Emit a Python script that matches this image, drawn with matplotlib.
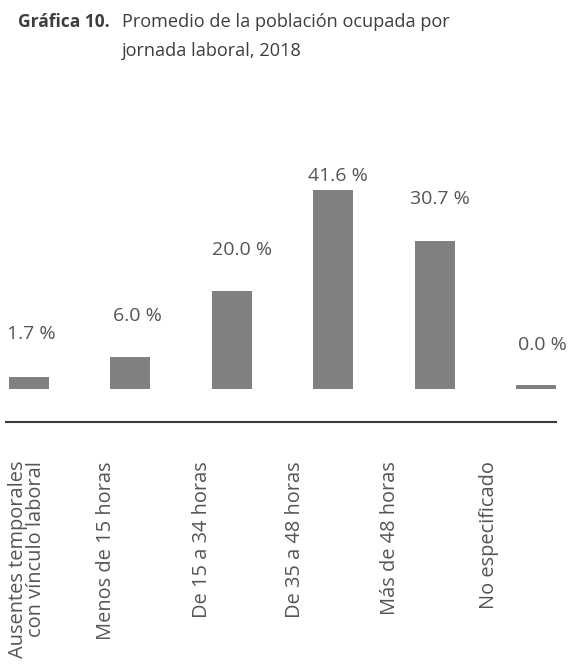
"""Gráfica 10: promedio de la población ocupada por jornada laboral, 2018."""

import matplotlib

matplotlib.use("Agg")
import matplotlib.pyplot as plt
import numpy as np

plt.rcParams["font.family"] = ["Open Sans", "DejaVu Sans"]

CATEGORIAS = [
    "Ausentes temporales\ncon vínculo laboral",
    "Menos de 15 horas",
    "De 15 a 34 horas",
    "De 35 a 48 horas",
    "Más de 48 horas",
    "No especificado",
]
VALORES = [1.7, 6.0, 20.0, 41.6, 30.7, 0.0]

C_BAR = "#808080"
C_TXT = "#555555"
C_LINE = "#3a3a3a"

W_PX, H_PX = 572, 666
X0_PX, DX_PX = 29, 101.4          # centro de la 1.ª barra y separación (px)
Y0_PX, SY_PX = 385, 4.69          # línea del valor 0 y px por punto porcentual
STUB = 4 / SY_PX                  # las barras bajan 4 px por debajo del cero
LIFT_PX = [43, 41, 41, 14, 42, 40]       # altura de la etiqueta sobre la barra
LAB_DX_PX = [2.5, 7, 10.5, 4.5, 5, 6]    # corrimiento horizontal de la etiqueta
CAT_X_PX = [27, 106, 202, 295, 390, 489]  # centros de los rótulos rotados


def px_x(p):
    return (p - X0_PX) / DX_PX


def px_y(p):
    return (Y0_PX - p) / SY_PX


fig = plt.figure(figsize=(W_PX / 100, H_PX / 100), dpi=100)
ax = fig.add_axes([0, 0, 1, 1])
ax.set_xlim(px_x(0), px_x(W_PX))
ax.set_ylim(px_y(H_PX), px_y(0))
ax.axis("off")

x = np.arange(len(VALORES))
v = np.array(VALORES)
ax.bar(x, v + STUB, bottom=-STUB, width=40 / DX_PX, color=C_BAR)

for xi, vi, lift, dx in zip(x, v, LIFT_PX, LAB_DX_PX):
    ax.text(xi + dx / DX_PX, vi + lift / SY_PX, f"{vi:.1f} %", ha="center", va="center",
            fontsize=14, color=C_TXT)

# línea base
ax.plot([px_x(5), px_x(557)], [px_y(422), px_y(422)], color=C_LINE, lw=1.5,
        solid_capstyle="butt")

for lab, cx in zip(CATEGORIAS, CAT_X_PX):
    ax.text(px_x(cx), px_y(461), lab, rotation=90, ha="center", va="top",
            multialignment="right", fontsize=14.4, color=C_TXT, linespacing=0.88)

# título
fig.text(18 / W_PX, 1 - 22 / H_PX, "Gráfica 10.", fontsize=12.5, fontweight="bold",
         color="#3d3d3d", ha="left", va="center")
fig.text(122 / W_PX, 1 - 22 / H_PX, "Promedio de la población ocupada por",
         fontsize=13.1, color="#3d3d3d", ha="left", va="center")
fig.text(122 / W_PX, 1 - 51 / H_PX, "jornada laboral, 2018",
         fontsize=13.1, color="#3d3d3d", ha="left", va="center")

fig.savefig("out.png", dpi=100)
